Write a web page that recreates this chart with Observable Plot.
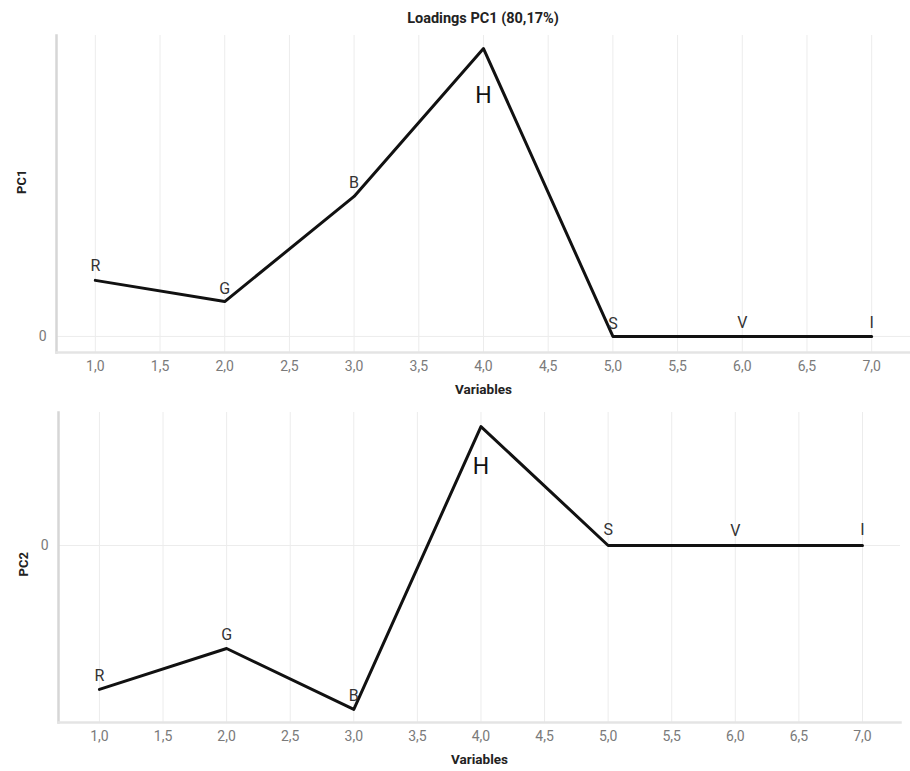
<!DOCTYPE html>
<html><head><meta charset="utf-8">
<script src="https://cdn.jsdelivr.net/npm/d3@7"></script>
<script src="https://cdn.jsdelivr.net/npm/@observablehq/plot@0.6"></script>
<style>
body{margin:0;background:#fff;font-family:Roboto,"Liberation Sans",sans-serif;}
#wrap{position:relative;width:910px;height:771px;}
.title{position:absolute;left:0;width:966px;text-align:center;font-weight:bold;font-size:14.5px;color:#222;}
.panel{position:absolute;left:0;}
</style></head>
<body><div id="wrap">
<div class="title" style="top:10px">Loadings PC1 (80,17%)</div>
<div class="panel" id="p1" style="top:30px"></div>
<div class="panel" id="p2" style="top:405px"></div>
</div>
<script>
const variables = ["R","G","B","H","S","V","I"];
const positions = [1,2,3,4,5,6,7];
const pc1 = [0.185, 0.115, 0.462, 0.95, 0, 0, 0];
const pc2 = [-0.605, -0.433, -0.689, 0.5, 0, 0, 0];
const xTicks = [1,1.5,2,2.5,3,3.5,4,4.5,5,5.5,6,6.5,7];
const yTicks = [0];
const labelOffsets1 = [-14,-13,-14,47,-13,-14,-14];
const labelOffsets2 = [-14,-14,-14,40,-16,-15,-16];

const fmt = d => d.toFixed(1).replace(".", ",");

function build(vals, offs, yLabel, opts){
  const data = variables.map((v,i)=>({v, x:positions[i], y:vals[i], dy:offs[i]}));
  return Plot.plot({
    width:910, height:opts.height,
    marginTop:opts.mt, marginBottom:opts.mb, marginLeft:opts.ml, marginRight:opts.mr,
    style:{fontFamily:"Roboto, 'Liberation Sans', sans-serif", background:"#fff"},
    x:{domain:opts.xd, label:null},
    y:{domain:opts.yd, label:null},
    marks:[
      Plot.ruleX(xTicks,{stroke:"#ececec", strokeWidth:1}),
      Plot.ruleY(yTicks,{stroke:"#ececec", strokeWidth:1}),
      Plot.frame({anchor:"left", stroke:"#d6d6d6", strokeWidth:2.5}),
      Plot.frame({anchor:"bottom", stroke:"#e4e4e4", strokeWidth:2.5}),
      Plot.axisX({ticks:xTicks, tickFormat:fmt, tickSize:0, tickPadding:9, fontSize:14, fill:"#7a7a7a", label:null}),
      Plot.axisY({ticks:yTicks, tickFormat:d=>String(d), tickSize:0, tickPadding:10, fontSize:14, fill:"#7a7a7a", label:null}),
      Plot.text(["Variables"],{frameAnchor:"bottom", dy:41, fontSize:13.5, fontWeight:"bold", fill:"#222"}),
      Plot.text([yLabel],{frameAnchor:"left", dx:-35, rotate:-90, fontSize:13, fontWeight:"bold", fill:"#222", dy:opts.ylDy}),
      Plot.line(data,{x:"x", y:"y", stroke:"#111", strokeWidth:3}),
      ...data.map(d=>Plot.text([d],{x:"x", y:"y", text:"v", dy:d.dy, fontSize:d.v==="H"?23:16, fill:d.v==="H"?"#111":"#333"}))
    ]
  });
}
document.getElementById("p1").appendChild(build(pc1, labelOffsets1, "PC1",
  {height:370, mt:5, mb:48, ml:56, mr:0, xd:[0.7,7.3], yd:[-0.053,0.993], ylDy:0}));
document.getElementById("p2").appendChild(build(pc2, labelOffsets2, "PC2",
  {height:366, mt:7, mb:49, ml:58, mr:10, xd:[0.678,7.299], yd:[-0.744,0.559], ylDy:9}));
</script>
</body></html>
